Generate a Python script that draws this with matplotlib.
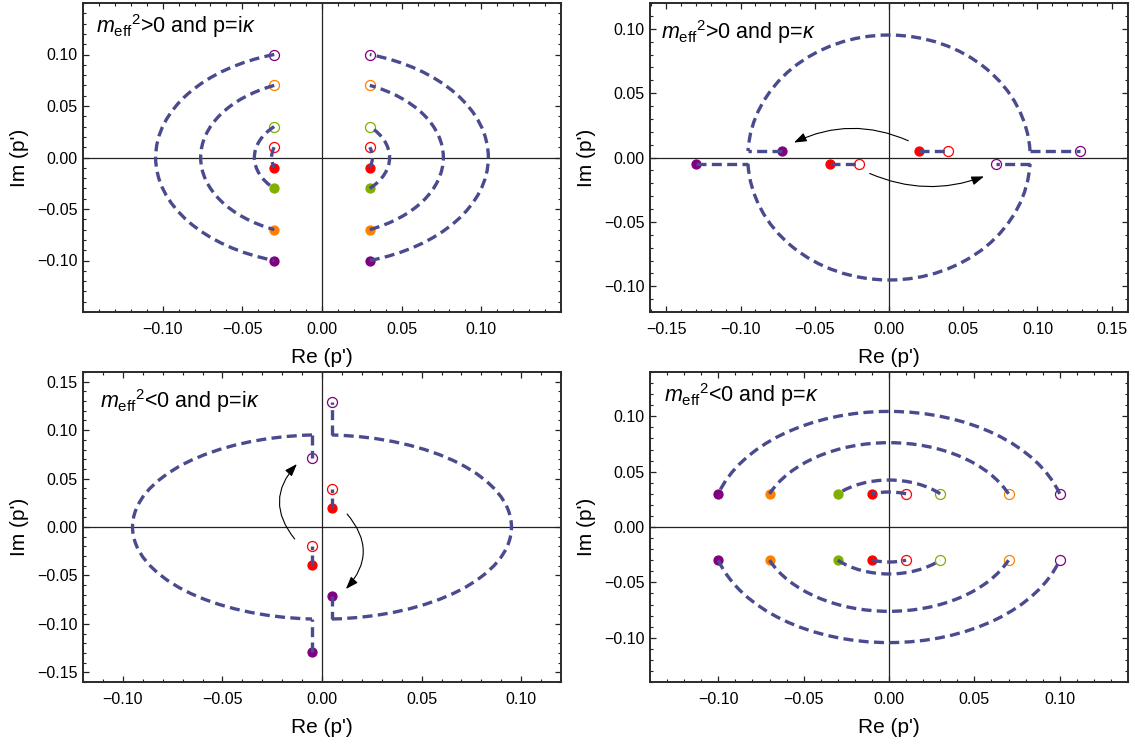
import numpy as np
import matplotlib
matplotlib.use('Agg')
import matplotlib.pyplot as plt
from matplotlib.patches import Arc
from matplotlib.ticker import MultipleLocator, FixedLocator, FuncFormatter

plt.rcParams['font.family'] = ['Liberation Sans', 'DejaVu Sans']
plt.rcParams['mathtext.fontset'] = 'custom'
plt.rcParams['mathtext.rm'] = 'Liberation Sans'
plt.rcParams['mathtext.it'] = 'Liberation Sans:italic'
plt.rcParams['mathtext.bf'] = 'Liberation Sans:bold'

PURPLE, ORANGE, GREEN, RED = '#800080', '#ff8000', '#80b000', '#ff0000'
LINE = '#4a4a8e'

# ---------------- Panel 1: m_eff^2>0, p=i kappa ----------------
p1_title = r"$m_{\mathrm{eff}}{}^{2}$>0 and p=i$\kappa$"
p1_levels = [0.10, 0.07, 0.03, 0.01]
p1_colors = [PURPLE, ORANGE, GREEN, RED]
p1_re = [-0.03, 0.03]
p1_xticks = [-0.10, -0.05, 0.00, 0.05, 0.10]
p1_yticks = [-0.10, -0.05, 0.00, 0.05, 0.10]
p1_xlim = (-0.15, 0.15)
p1_ylim = (-0.15, 0.15)

# ---------------- Panel 2: m_eff^2>0, p=kappa ----------------
p2_title = r"$m_{\mathrm{eff}}{}^{2}$>0 and p=$\kappa$"
# trajectories: filled start, corner, corner, open end
p2_purple_upper = [(-0.072, 0.005), (-0.095, 0.005), (0.095, 0.005), (0.129, 0.005)]
p2_purple_lower = [(-0.130, -0.005), (-0.095, -0.005), (0.095, -0.005), (0.072, -0.005)]
p2_red_upper = [(0.020, 0.005), (0.040, 0.005)]
p2_red_lower = [(-0.040, -0.005), (-0.020, -0.005)]
p2_arrow_upper = [(0.013, 0.013), (-0.064, 0.0116)]
p2_arrow_lower = [(-0.013, -0.0124), (0.064, -0.0147)]
p2_xticks = [-0.15, -0.10, -0.05, 0.00, 0.05, 0.10, 0.15]
p2_yticks = [-0.10, -0.05, 0.00, 0.05, 0.10]
p2_xlim = (-0.161, 0.161)
p2_ylim = (-0.12, 0.12)

# ---------------- Panel 3: m_eff^2<0, p=i kappa ----------------
p3_title = r"$m_{\mathrm{eff}}{}^{2}$<0 and p=i$\kappa$"
p3_purple_left = [(-0.005, -0.129), (-0.005, -0.095), (-0.005, 0.095), (-0.005, 0.071)]
p3_purple_right = [(0.005, -0.071), (0.005, -0.095), (0.005, 0.095), (0.005, 0.129)]
p3_red_right = [(0.005, 0.020), (0.005, 0.039)]
p3_red_left = [(-0.005, -0.039), (-0.005, -0.020)]
p3_arrow_left = [(-0.0137, -0.0124), (-0.0126, 0.065)]
p3_arrow_right = [(0.0126, 0.0134), (0.012, -0.064)]
p3_xticks = [-0.10, -0.05, 0.00, 0.05, 0.10]
p3_yticks = [-0.15, -0.10, -0.05, 0.00, 0.05, 0.10, 0.15]
p3_xlim = (-0.12, 0.12)
p3_ylim = (-0.16, 0.16)

# ---------------- Panel 4: m_eff^2<0, p=kappa ----------------
p4_title = r"$m_{\mathrm{eff}}{}^{2}$<0 and p=$\kappa$"
p4_re = [0.10, 0.07, 0.03, 0.01]
p4_colors = [PURPLE, ORANGE, GREEN, RED]
p4_im = [0.03, -0.03]
p4_xticks = [-0.10, -0.05, 0.00, 0.05, 0.10]
p4_yticks = [-0.10, -0.05, 0.00, 0.05, 0.10]
p4_xlim = (-0.14, 0.14)
p4_ylim = (-0.14, 0.14)

FILLED_MS = 6.4
OPEN_MS = 7.2
LW = 2.4
DASH = (0, (3.0, 1.6))


def fmt(v, pos):
    if abs(v) < 1e-9:
        v = 0.0
    return f"{v:.2f}".replace('-', '\u2212')


def style_axes(ax, xlim, ylim, xt, yt, title, tx, ty):
    ax.set_xlim(*xlim)
    ax.set_ylim(*ylim)
    ax.xaxis.set_major_locator(FixedLocator(xt))
    ax.yaxis.set_major_locator(FixedLocator(yt))
    ax.xaxis.set_minor_locator(MultipleLocator(0.01))
    ax.yaxis.set_minor_locator(MultipleLocator(0.01))
    ax.xaxis.set_major_formatter(FuncFormatter(fmt))
    ax.yaxis.set_major_formatter(FuncFormatter(fmt))
    ax.tick_params(which='both', direction='in', top=True, right=True,
                   color='#222222', labelsize=11.5)
    ax.tick_params(which='major', length=4.0, width=0.9)
    ax.tick_params(which='minor', length=2.2, width=0.8)
    ax.tick_params(axis='x', which='major', pad=7)
    ax.tick_params(axis='y', which='major', pad=4)
    for s in ax.spines.values():
        s.set_linewidth(1.4)
        s.set_color('#2a2a2a')
    ax.axhline(0, color='#222222', lw=0.9, zorder=1)
    ax.axvline(0, color='#222222', lw=0.9, zorder=1)
    ax.set_xlabel("Re (p')", fontsize=15)
    ax.set_ylabel("Im (p')", fontsize=15)
    ax.xaxis.set_label_coords(0.5, -0.148)
    ax.xaxis.label.set_va('center')
    ax.yaxis.set_label_coords(-0.133, 0.5)
    ax.yaxis.label.set_va('center')
    ax.text(tx, ty, title, transform=ax.transAxes, fontsize=15.5,
            ha='left', va='baseline')


def line(ax, p, q):
    ax.plot([p[0], q[0]], [p[1], q[1]], color=LINE, lw=LW, linestyle=DASH,
            zorder=4, solid_capstyle='butt', dash_capstyle='butt')


def arc(ax, p, q, ccw=True):
    r = 0.5 * (np.hypot(*p) + np.hypot(*q))
    a = np.degrees(np.arctan2(p[1], p[0]))
    b = np.degrees(np.arctan2(q[1], q[0]))
    if not ccw:
        a, b = b, a
    ax.add_patch(Arc((0, 0), 2 * r, 2 * r, theta1=a, theta2=b, color=LINE,
                     lw=LW, linestyle=DASH, zorder=4, capstyle='butt'))


def filled(ax, p, c):
    ax.plot([p[0]], [p[1]], 'o', ms=FILLED_MS, color=c, mec=c, zorder=3)


def opened(ax, p, c):
    ax.plot([p[0]], [p[1]], 'o', ms=OPEN_MS, mfc='white', mec=c, mew=0.9,
            zorder=3)


def arrow(ax, pts, rad):
    ax.annotate('', xy=pts[1], xytext=pts[0],
                arrowprops=dict(arrowstyle='-|>,head_length=0.75,head_width=0.27',
                                connectionstyle=f'arc3,rad={rad}', color='black',
                                lw=0.8, shrinkA=0, shrinkB=0), zorder=5)


def corner_path(ax, pts, ccw, col):
    line(ax, pts[0], pts[1])
    arc(ax, pts[1], pts[2], ccw=ccw)
    line(ax, pts[2], pts[3])
    filled(ax, pts[0], col)
    opened(ax, pts[3], col)


fig = plt.figure(figsize=(11.35, 7.48), dpi=100)
W, H = 1135, 748


def add_ax(x0, y0, x1, y1):
    return fig.add_axes([x0 / W, 1 - y1 / H, (x1 - x0) / W, (y1 - y0) / H])


ax1 = add_ax(83, 3, 561, 312)
ax2 = add_ax(650, 3, 1128, 312)
ax3 = add_ax(83, 372, 561, 682)
ax4 = add_ax(650, 372, 1128, 682)

# Panel 1
style_axes(ax1, p1_xlim, p1_ylim, p1_xticks, p1_yticks, p1_title, 0.027, 0.903)
for lev, c in zip(p1_levels, p1_colors):
    for x in p1_re:
        top, bot = (x, lev), (x, -lev)
        arc(ax1, top, bot, ccw=(x < 0))
        opened(ax1, top, c)
        filled(ax1, bot, c)

# Panel 2
style_axes(ax2, p2_xlim, p2_ylim, p2_xticks, p2_yticks, p2_title, 0.023, 0.883)
corner_path(ax2, p2_purple_upper, False, PURPLE)
corner_path(ax2, p2_purple_lower, True, PURPLE)
for seg in (p2_red_upper, p2_red_lower):
    line(ax2, seg[0], seg[1])
    filled(ax2, seg[0], RED)
    opened(ax2, seg[1], RED)
arrow(ax2, p2_arrow_upper, 0.23)
arrow(ax2, p2_arrow_lower, 0.2)

# Panel 3
style_axes(ax3, p3_xlim, p3_ylim, p3_xticks, p3_yticks, p3_title, 0.036, 0.883)
corner_path(ax3, p3_purple_left, False, PURPLE)
corner_path(ax3, p3_purple_right, True, PURPLE)
for seg in (p3_red_right, p3_red_left):
    line(ax3, seg[0], seg[1])
    filled(ax3, seg[0], RED)
    opened(ax3, seg[1], RED)
arrow(ax3, p3_arrow_left, -0.43)
arrow(ax3, p3_arrow_right, -0.44)

# Panel 4
style_axes(ax4, p4_xlim, p4_ylim, p4_xticks, p4_yticks, p4_title, 0.030, 0.902)
for x, c in zip(p4_re, p4_colors):
    for y in p4_im:
        left, right = (-x, y), (x, y)
        arc(ax4, left, right, ccw=(y < 0))
        filled(ax4, left, c)
        opened(ax4, right, c)

fig.savefig('out.png', dpi=100)
